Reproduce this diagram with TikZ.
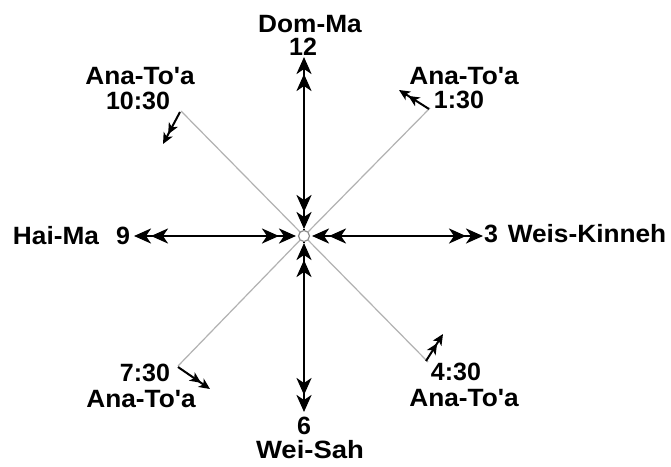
\documentclass[tikz,border=0pt]{standalone}
\usepackage{fontspec}
\setmainfont{Liberation Sans}[Ligatures=TeXOff]
\usetikzlibrary{arrows.meta}
\newcommand{\sx}[2]{\scalebox{#1}[1]{#2}}
\tikzset{
  lbl/.style={font=\bfseries\fontsize{25}{28}\selectfont, inner sep=0pt, text height=17.9pt, text depth=0pt},
  bigtip/.tip={Stealth[length=17pt,width=15pt,inset=5pt]},
  smalltip/.tip={Stealth[length=11pt,width=10pt,inset=3pt]},
  mainarm/.style={line width=2.6pt, black, {bigtip[]bigtip[]}-{bigtip[]bigtip[]}},
  diag/.style={line width=1.2pt, black!30},
  turn/.style={line width=2pt, black, -{smalltip[]smalltip[]}},
  hub/.style={circle, draw=black!45, fill=white, line width=1.2pt, minimum size=11pt, inner sep=0pt}
}
\begin{document}
\begin{tikzpicture}[x=1pt,y=-1pt]
\fill[white] (0,0) rectangle (671,466);
\useasboundingbox (0,0) rectangle (671,466);
% centre and arm points
\coordinate (c) at (304,236);
\coordinate (nO) at (304,57);  \coordinate (nI) at (304,229);
\coordinate (sO) at (304,412); \coordinate (sI) at (304,243);
\coordinate (wO) at (134,236); \coordinate (wI) at (296,236);
\coordinate (eO) at (483,236); \coordinate (eI) at (312,236);
% diagonal ends
\coordinate (nw) at (181,111);
\coordinate (ne) at (430,108);
\coordinate (se) at (428,362);
\coordinate (sw) at (178,366);
% turning arrow ends
\coordinate (nwS) at (180,112); \coordinate (nwT) at (163,144);
\coordinate (neS) at (429,109); \coordinate (neT) at (399,90);
\coordinate (seS) at (426,361); \coordinate (seT) at (443,334);
\coordinate (swS) at (178,367); \coordinate (swT) at (210,389);
% diagonals
\draw[diag] (c) -- (nw);
\draw[diag] (c) -- (ne);
\draw[diag] (c) -- (se);
\draw[diag] (c) -- (sw);
% main arms
\draw[line width=2.6pt] (nI) -- (sI);
\draw[mainarm] (nI) -- (nO);
\draw[mainarm] (sI) -- (sO);
\draw[mainarm] (wI) -- (wO);
\draw[mainarm] (eI) -- (eO);
\node[hub] (hub) at (c) {};
% turning arrows
\draw[turn] (nwS) -- (nwT);
\draw[turn] (neS) -- (neT);
\draw[turn] (seS) -- (seT);
\draw[turn] (swS) -- (swT);
% labels
\node[lbl] (domma) at (310,24) {\sx{1.05}{Dom-Ma}};
\node[lbl] (twelve) at (303,47) {12};
\node[lbl] (anaNW) at (140,76) {\sx{1.05}{Ana-To'a}};
\node[lbl] (tNW) at (138,101) {10:30};
\node[lbl] (anaNE) at (464,76) {\sx{1.05}{Ana-To'a}};
\node[lbl] (tNE) at (459,100) {1:30};
\node[lbl] (haima) at (56,236) {\sx{1.05}{Hai-Ma}};
\node[lbl] (nine) at (123,236) {9};
\node[lbl] (three) at (491,234) {3};
\node[lbl] (weis) at (587,234) {\sx{1.05}{Weis-Kinneh}};
\node[lbl] (tSW) at (145,373) {7:30};
\node[lbl] (anaSW) at (141,399) {\sx{1.05}{Ana-To'a}};
\node[lbl] (tSE) at (456,372) {4:30};
\node[lbl] (anaSE) at (464,398) {\sx{1.05}{Ana-To'a}};
\node[lbl] (six) at (304,426) {6};
\node[lbl] (weisah) at (310,450) {\sx{1.1}{Wei-Sah}};
\end{tikzpicture}
\end{document}
